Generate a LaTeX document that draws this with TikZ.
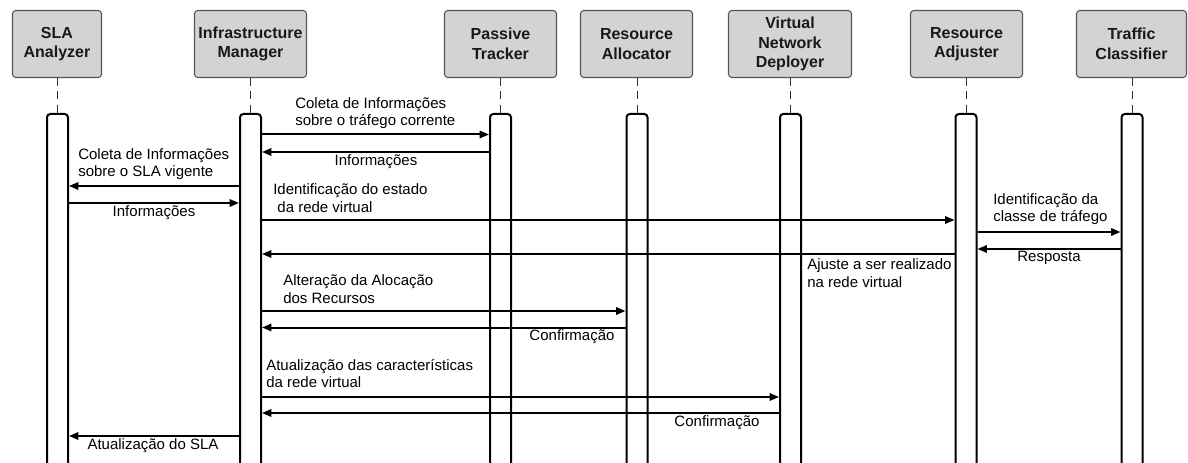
\documentclass[tikz,border=0pt]{standalone}
\usepackage{fontspec}
\setmainfont{Liberation Sans}
\usetikzlibrary{arrows.meta}
\definecolor{headfill}{HTML}{D3D3D3}
\definecolor{headline}{HTML}{555555}
\begin{document}
\begin{tikzpicture}[x=0.75pt,y=-0.75pt,
  head/.style={draw=headline, line width=0.8pt, fill=headfill, rounded corners=2.5pt,
    inner sep=0pt, minimum height=50.25pt, align=center,
    font=\fontsize{12pt}{14.6pt}\selectfont\bfseries, text=black!90},
  actbar/.style={draw=black, line width=1.5pt, fill=white, rounded corners=2.5pt,
    minimum width=15.75pt, minimum height=300pt, inner sep=0pt, anchor=north},
  lifeline/.style={draw=black!80, line width=0.75pt, dash pattern=on 6pt off 4pt},
  msg/.style={draw=black, line width=1.5pt, -{Triangle[length=7pt,width=5.5pt]}},
  lbl/.style={inner sep=0pt, font=\fontsize{11.25pt}{13.3pt}\selectfont, align=left},
]
\clip (0,0) rectangle (1188,463);
\fill[white] (0,0) rectangle (1188,463);

% participants
\node[head, minimum width=66.75pt] (hSLA) at (57,44) {SLA\\Analyzer};
\node[head, minimum width=84pt] (hIM) at (250.5,44) {Infrastructure\\Manager};
\node[head, minimum width=84pt] (hPT) at (500.5,44) {Passive\\Tracker};
\node[head, minimum width=84pt] (hRA) at (636.5,44) {Resource\\Allocator};
\node[head, minimum width=92.25pt] (hVND) at (790,44) {Virtual\\Network\\Deployer};
\node[head, minimum width=84pt] (hRAD) at (966.5,44) {Resource\\Adjuster};
\node[head, minimum width=82.5pt] (hTC) at (1131.5,44) {Traffic\\Classifier};

% activation bars
\node[actbar] (bSLA) at (57.5,113) {};
\node[actbar] (bIM) at (250.5,113) {};
\node[actbar] (bPT) at (500.5,113) {};
\node[actbar] (bRA) at (637,113) {};
\node[actbar] (bVND) at (790.5,113) {};
\node[actbar] (bRAD) at (966,113) {};
\node[actbar] (bTC) at (1132,113) {};

% lifelines
\foreach \p in {SLA,IM,PT,RA,VND,RAD,TC}
  \draw[lifeline] (b\p.north |- h\p.south) -- (b\p.north);

% messages
\draw[msg] (bIM.east |- 0,134.5) -- (bPT.west |- 0,134.5);
\draw[msg] (bPT.west |- 0,152) -- (bIM.east |- 0,152);
\draw[msg] (bIM.west |- 0,186) -- (bSLA.east |- 0,186);
\draw[msg] (bSLA.east |- 0,203) -- (bIM.west |- 0,203);
\draw[msg] (bIM.east |- 0,220) -- (bRAD.west |- 0,220);
\draw[msg] (bRAD.east |- 0,232) -- (bTC.west |- 0,232);
\draw[msg] (bTC.west |- 0,249) -- (bRAD.east |- 0,249);
\draw[msg] (bRAD.west |- 0,254) -- (bIM.east |- 0,254);
\draw[msg] (bIM.east |- 0,311) -- (bRA.west |- 0,311);
\draw[msg] (bRA.west |- 0,327.5) -- (bIM.east |- 0,327.5);
\draw[msg] (bIM.east |- 0,397) -- (bVND.west |- 0,397);
\draw[msg] (bVND.west |- 0,413) -- (bIM.east |- 0,413);
\draw[msg] (bIM.west |- 0,436) -- (bSLA.east |- 0,436);

% message labels
\node[lbl, anchor=west] (l1) at (295,113) {Coleta de Informações\\sobre o tráfego corrente};
\node[lbl] (l2) at (376,162) {Informações};
\node[lbl, anchor=west] (l3) at (78,164) {Coleta de Informações\\sobre o SLA vigente};
\node[lbl] (l4) at (154,213) {Informações};
\node[lbl, anchor=west] (l5) at (273,198) {Identificação do estado\\\hspace*{0.28em}da rede virtual};
\node[lbl, anchor=west] (l6) at (993,209) {Identificação da\\classe de tráfego};
\node[lbl] (l7) at (1049,258) {Resposta};
\node[lbl, anchor=west] (l8) at (807,273) {Ajuste a ser realizado\\na rede virtual};
\node[lbl, anchor=west] (l9) at (283,289.5) {Alteração da Alocação\\dos Recursos};
\node[lbl] (l10) at (572,337) {Confirmação};
\node[lbl, anchor=west] (l11) at (266,373.5) {Atualização das características\\da rede virtual};
\node[lbl] (l12) at (717,423) {Confirmação};
\node[lbl] (l13) at (153,446) {Atualização do SLA};
\end{tikzpicture}
\end{document}
